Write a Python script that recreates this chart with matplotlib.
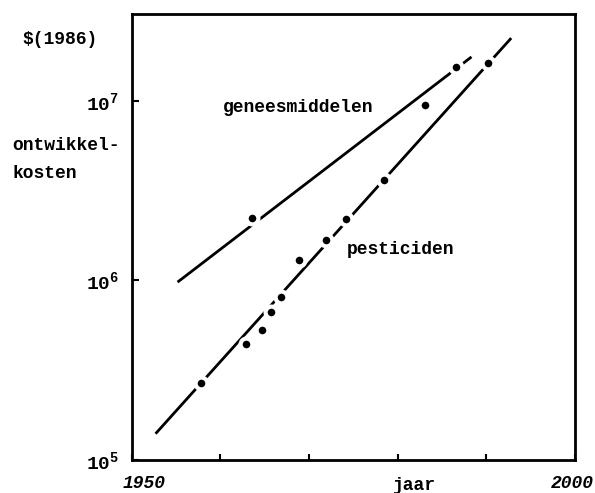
import matplotlib.pyplot as plt
from matplotlib.ticker import FixedLocator, FixedFormatter, NullLocator
from matplotlib.transforms import ScaledTranslation

plt.rcParams['mathtext.fontset'] = 'custom'
plt.rcParams['mathtext.rm'] = 'Liberation Mono:bold'
plt.rcParams['mathtext.it'] = 'Liberation Mono:bold'
plt.rcParams['mathtext.bf'] = 'Liberation Mono:bold'

# geneesmiddelen: meetpunten en trendlijn
gen_jaar = [1963.6, 1983.1, 1986.6]
gen_kosten = [2.22e6, 9.5e6, 1.55e7]
gen_lijn_jaar = [1955.3, 1988.2]
gen_lijn_kosten = [9.9e5, 1.74e7]

# pesticiden: meetpunten en trendlijn
pest_jaar = [1957.8, 1962.9, 1964.7, 1965.7, 1966.8, 1968.9, 1971.9, 1974.2, 1978.5, 1990.2]
pest_kosten = [2.70e5, 4.42e5, 5.30e5, 6.65e5, 8.13e5, 1.30e6, 1.68e6, 2.20e6, 3.63e6, 1.63e7]
pest_lijn_jaar = [1952.8, 1992.7]
pest_lijn_kosten = [1.42e5, 2.21e7]

jaren = [1950, 1960, 1970, 1980, 1990, 2000]
jaar_labels = ['1950', '', '', '', '', '2000']
y_ticks = [1e5, 1e6, 1e7]
y_labels = [r'$10^5$', r'$10^6$', r'$10^7$']

mono = dict(family='Liberation Mono', weight='bold', size=13)

fig = plt.figure(figsize=(5.95, 4.93), dpi=100)
ax = fig.add_axes([0.2213, 0.0669, 0.7451, 0.9047])

ax.plot(gen_lijn_jaar, gen_lijn_kosten, color='black', lw=2, zorder=2)
ax.plot(pest_lijn_jaar, pest_lijn_kosten, color='black', lw=2, zorder=2)
# witte rand om de punten geeft de onderbrekingen in de lijnen
ax.plot(gen_jaar, gen_kosten, 'o', color='black', ms=8.5, mec='white', mew=3, zorder=3)
ax.plot(pest_jaar, pest_kosten, 'o', color='black', ms=8.5, mec='white', mew=3, zorder=3)

ax.set_yscale('log')
ax.set_xlim(1950, 2000)
ax.set_ylim(1e5, 3.05e7)

ax.xaxis.set_major_locator(FixedLocator(jaren))
ax.xaxis.set_major_formatter(FixedFormatter(jaar_labels))
ax.yaxis.set_major_locator(FixedLocator(y_ticks))
ax.yaxis.set_major_formatter(FixedFormatter(y_labels))
ax.yaxis.set_minor_locator(NullLocator())
ax.xaxis.set_minor_locator(NullLocator())

ax.tick_params(axis='x', direction='in', length=4, width=1.5, pad=11)
ax.tick_params(axis='y', direction='in', length=5, width=1.5, pad=9, labelsize=14)
xlabels = ax.get_xticklabels()
for lbl in xlabels:
    lbl.set_fontfamily('Liberation Mono')
    lbl.set_fontweight('bold')
    lbl.set_fontstyle('italic')
    lbl.set_fontsize(13)
# 1950 staat iets rechts van de as
xlabels[0].set_transform(xlabels[0].get_transform() + ScaledTranslation(0.12, 0, fig.dpi_scale_trans))
xlabels[-1].set_transform(xlabels[-1].get_transform() + ScaledTranslation(-0.03, 0, fig.dpi_scale_trans))

for s in ax.spines.values():
    s.set_linewidth(2)

ax.set_xlabel('jaar', fontdict=mono)
ax.xaxis.set_label_coords(0.637, -0.038)

fig.text(22 / 595, 1 - 40 / 493, r'\$(1986)', va='center', ha='left', **mono)
fig.text(12 / 595, 1 - 145 / 493, 'ontwikkel-', va='center', ha='left', **mono)
fig.text(12 / 595, 1 - 173 / 493, 'kosten', va='center', ha='left', **mono)
fig.text(223 / 595, 1 - 107 / 493, 'geneesmiddelen', va='center', ha='left', **mono)
fig.text(347 / 595, 1 - 250 / 493, 'pesticiden', va='center', ha='left', **mono)

fig.savefig('out.png', dpi=100)
